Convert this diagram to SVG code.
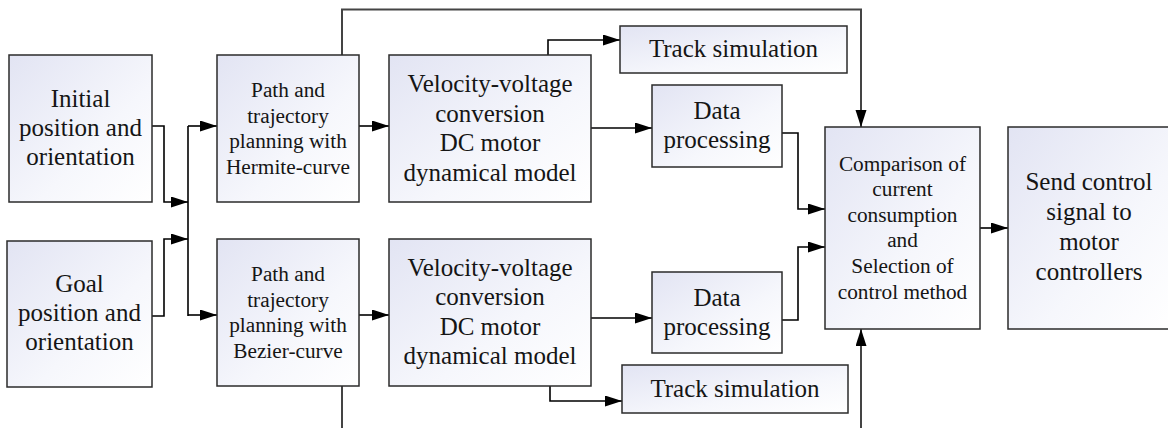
<svg xmlns="http://www.w3.org/2000/svg" width="1168" height="428" viewBox="0 0 1168 428" font-family="Liberation Serif, Times New Roman, serif">
  <defs>
    <linearGradient id="boxFill" x1="0" y1="0" x2="1" y2="1">
      <stop offset="0" stop-color="#e2e4f3"/>
      <stop offset="0.6" stop-color="#f6f7fc"/>
      <stop offset="1" stop-color="#ffffff"/>
    </linearGradient>
    <marker id="arrow" markerUnits="userSpaceOnUse" markerWidth="18" markerHeight="12" refX="17" refY="5.5" orient="auto">
      <path d="M0,0 L17,5.5 L0,11 z" fill="#000"/>
    </marker>
  </defs>
  <style>
    .box { fill: url(#boxFill); stroke: #2b2b2b; stroke-width: 1.5; }
    text { fill: #151515; text-anchor: middle; }
    .big { font-size: 25px; }
    .small { font-size: 21.3px; }
    .wire { fill: none; stroke: #000; stroke-width: 1.6; }
    .arr { marker-end: url(#arrow); }
    .long { stroke: #444; stroke-width: 2; }
  </style>

  <g id="connectors">
    <!-- inputs to the distribution bus -->
    <path class="wire arr" d="M152,126 H164 V202 H188"/>
    <path class="wire arr" d="M152,316 H164 V239 H188"/>
    <path class="wire" d="M188,126 V316"/>
    <path class="wire arr" d="M188,126 H217"/>
    <path class="wire arr" d="M188,315 H217"/>
    <!-- planners to converters -->
    <path class="wire arr" d="M359,126 H389"/>
    <path class="wire arr" d="M359,315 H389"/>
    <!-- planner feeds to comparison -->
    <path class="wire long arr" d="M342,55 V9.5 H861 V127"/>
    <path class="wire long arr" d="M342,386 V440 H861 V329"/>
    <!-- converter outputs -->
    <path class="wire arr" d="M548,55 V40 H620"/>
    <path class="wire arr" d="M591,128 H652"/>
    <path class="wire arr" d="M591,318 H652"/>
    <path class="wire arr" d="M550,386 V401 H622"/>
    <!-- processed data to comparison -->
    <path class="wire arr" d="M782,133 H798 V209 H825"/>
    <path class="wire arr" d="M782,320 H798 V247 H825"/>
    <!-- comparison to output -->
    <path class="wire arr" d="M980,228 H1008"/>
  </g>

  <g id="initial">
    <rect class="box" x="9" y="55" width="143" height="147"/>
    <text class="big" x="80.5" y="107">Initial</text>
    <text class="big" x="80.5" y="136">position and</text>
    <text class="big" x="80.5" y="165">orientation</text>
  </g>

  <g id="goal">
    <rect class="box" x="7" y="241" width="145" height="146"/>
    <text class="big" x="79.5" y="292">Goal</text>
    <text class="big" x="79.5" y="321">position and</text>
    <text class="big" x="79.5" y="350">orientation</text>
  </g>

  <g id="planner-hermite">
    <rect class="box" x="217" y="55" width="142" height="147"/>
    <text class="small" x="288" y="97">Path and</text>
    <text class="small" x="288" y="122.5">trajectory</text>
    <text class="small" x="288" y="148">planning with</text>
    <text class="small" x="288" y="173.5">Hermite-curve</text>
  </g>

  <g id="planner-bezier">
    <rect class="box" x="217" y="239" width="142" height="147"/>
    <text class="small" x="288" y="281">Path and</text>
    <text class="small" x="288" y="306.5">trajectory</text>
    <text class="small" x="288" y="332">planning with</text>
    <text class="small" x="288" y="357.5">Bezier-curve</text>
  </g>

  <g id="converter-top">
    <rect class="box" x="389" y="55" width="202" height="147"/>
    <text class="big" x="490" y="92">Velocity-voltage</text>
    <text class="big" x="490" y="121.5">conversion</text>
    <text class="big" x="490" y="151">DC motor</text>
    <text class="big" x="490" y="180.5">dynamical model</text>
  </g>

  <g id="converter-bottom">
    <rect class="box" x="389" y="239" width="202" height="147"/>
    <text class="big" x="490" y="275.5">Velocity-voltage</text>
    <text class="big" x="490" y="305">conversion</text>
    <text class="big" x="490" y="334.5">DC motor</text>
    <text class="big" x="490" y="364">dynamical model</text>
  </g>

  <g id="track-top">
    <rect class="box" x="620" y="26" width="227" height="47"/>
    <text class="big" x="733.5" y="57">Track simulation</text>
  </g>

  <g id="data-top">
    <rect class="box" x="652" y="85" width="130" height="82"/>
    <text class="big" x="717" y="118.5">Data</text>
    <text class="big" x="717" y="147.5">processing</text>
  </g>

  <g id="data-bottom">
    <rect class="box" x="652" y="272" width="130" height="81"/>
    <text class="big" x="717" y="305.5">Data</text>
    <text class="big" x="717" y="334.5">processing</text>
  </g>

  <g id="track-bottom">
    <rect class="box" x="622" y="365" width="226" height="48"/>
    <text class="big" x="735" y="397">Track simulation</text>
  </g>

  <g id="comparison">
    <rect class="box" x="825" y="127" width="155" height="202"/>
    <text class="small" x="902.5" y="170.5">Comparison of</text>
    <text class="small" x="902.5" y="196">current</text>
    <text class="small" x="902.5" y="221.7">consumption</text>
    <text class="small" x="902.5" y="247.3">and</text>
    <text class="small" x="902.5" y="273">Selection of</text>
    <text class="small" x="902.5" y="298.5">control method</text>
  </g>

  <g id="send-control">
    <rect class="box" x="1008" y="127" width="164" height="202"/>
    <text class="big" x="1089" y="190">Send control</text>
    <text class="big" x="1089" y="220">signal to</text>
    <text class="big" x="1089" y="250">motor</text>
    <text class="big" x="1089" y="280">controllers</text>
  </g>
</svg>
